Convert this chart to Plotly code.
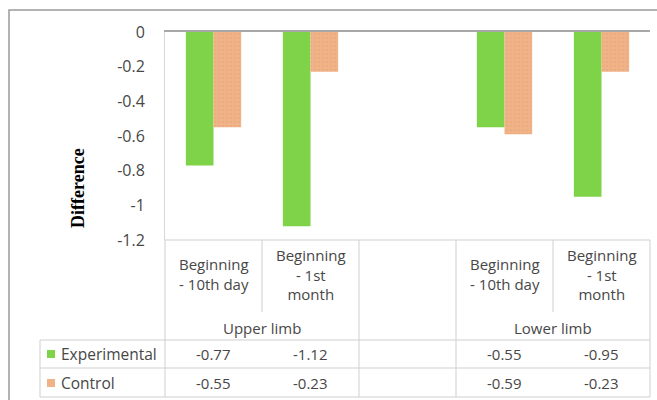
import plotly.graph_objects as go

# ---- data ----
categories = ["Beginning<br>- 10th day", "Beginning<br>- 1st<br>month", "",
              "Beginning<br>- 10th day", "Beginning<br>- 1st<br>month"]
groups = ["Upper limb", "Lower limb"]
group_centers = [0.5, 3.5]          # category-index centre of each group
series_names = ["Experimental", "Control"]
experimental = [-0.77, -1.12, None, -0.55, -0.95]
control = [-0.55, -0.23, None, -0.59, -0.23]
experimental_txt = ["-0.77", "-1.12", "", "-0.55", "-0.95"]
control_txt = ["-0.55", "-0.23", "", "-0.59", "-0.23"]
ytick_vals = [0, -0.2, -0.4, -0.6, -0.8, -1, -1.2]
ytick_text = ["0", "-0.2", "-0.4", "-0.6", "-0.8", "-1", "-1.2"]

# ---- styles ----
W, H = 657, 400
ML, MR, MT, MB = 165, 7, 32, 160
GREEN = "#7ED348"
TAN = "#F0B387"
GRID = "#cfcfcf"
TXT = "#474747"
FONT = "Open Sans"
FS = 15

x = list(range(len(categories)))
XMIN, XMAX = -0.5, len(categories) - 0.5
PW, PH = W - ML - MR, H - MT - MB


def px_x(p):  # pixel -> paper x
    return (p - ML) / PW


def px_y(p):  # pixel -> paper y
    return (H - MB - p) / PH


def cat_x(v):  # category coordinate -> paper x
    return (v - XMIN) / (XMAX - XMIN)


fig = go.Figure()
fig.add_trace(go.Bar(x=x, y=experimental, name=series_names[0],
                     marker=dict(color=GREEN, line=dict(width=0))))
fig.add_trace(go.Bar(x=x, y=control, name=series_names[1],
                     marker=dict(color=TAN, line=dict(width=0),
                                 pattern=dict(shape=".", fgcolor="#E7A679",
                                              bgcolor=TAN, size=4, solidity=0.35))))

shapes = []
ann = []

# table geometry (pixels for rows)
row_top, row_hdr, row1, row2 = 240, 340, 368, 397
left_px = 40

# horizontal lines
for yy, x0 in [(row_top, cat_x(XMIN)), (row_hdr, px_x(left_px)),
               (row1, px_x(left_px)), (row2, px_x(left_px))]:
    shapes.append(dict(type="line", xref="paper", yref="paper",
                       x0=x0, x1=cat_x(XMAX), y0=px_y(yy), y1=px_y(yy),
                       line=dict(color=GRID, width=1)))
# vertical lines
shapes.append(dict(type="line", xref="paper", yref="paper",
                   x0=px_x(left_px), x1=px_x(left_px), y0=px_y(row_hdr), y1=px_y(row2),
                   line=dict(color=GRID, width=1)))
for b in range(len(categories) + 1):
    v = XMIN + b
    partial = b in (1, 4)
    y_end = 312 if partial else row2
    shapes.append(dict(type="line", xref="paper", yref="paper",
                       x0=cat_x(v), x1=cat_x(v), y0=px_y(row_top), y1=px_y(y_end),
                       line=dict(color=GRID, width=1)))

# outer chart border
shapes.append(dict(type="rect", xref="paper", yref="paper",
                   x0=px_x(9), x1=px_x(700), y0=px_y(10), y1=px_y(440),
                   line=dict(color="#9a9a9a", width=1.5), fillcolor="rgba(0,0,0,0)"))

# category labels
for i, c in enumerate(categories):
    if c:
        ann.append(dict(x=i, xref="x", y=px_y(274), yref="paper", text=c,
                        showarrow=False, xanchor="center", yanchor="middle",
                        font=dict(family=FONT, size=FS, color=TXT)))
for g, gc in zip(groups, group_centers):
    ann.append(dict(x=gc, xref="x", y=px_y(328), yref="paper", text=g,
                    showarrow=False, xanchor="center", yanchor="middle",
                    font=dict(family=FONT, size=FS, color=TXT)))

# data rows
for rowy, name, vals, col in [(354, series_names[0], experimental_txt, GREEN),
                              (383, series_names[1], control_txt, TAN)]:
    shapes.append(dict(type="rect", xref="paper", yref="paper",
                       x0=px_x(47), x1=px_x(55), y0=px_y(rowy - 4), y1=px_y(rowy + 4),
                       line=dict(width=0), fillcolor=col))
    ann.append(dict(x=px_x(59), xref="paper", y=px_y(rowy), yref="paper", text=name,
                    showarrow=False, xanchor="left", yanchor="middle",
                    font=dict(family=FONT, size=FS + 0.5, color=TXT)))
    for i, t in enumerate(vals):
        if t:
            ann.append(dict(x=i, xref="x", y=px_y(rowy), yref="paper", text=t,
                            showarrow=False, xanchor="center", yanchor="middle",
                            font=dict(family=FONT, size=FS, color=TXT)))

# y-axis title
ann.append(dict(x=px_x(78), xref="paper", y=px_y(188), yref="paper", text="<b>Difference</b>",
                textangle=-90, showarrow=False, xanchor="center", yanchor="middle",
                font=dict(family="Liberation Serif", size=18, color="#000000")))

fig.update_layout(
    width=W, height=H,
    margin=dict(l=ML, r=MR, t=MT, b=MB, autoexpand=False),
    paper_bgcolor="white", plot_bgcolor="white",
    barmode="group", bargap=0.43, bargroupgap=0,
    showlegend=False,
    shapes=shapes, annotations=ann,
    xaxis=dict(range=[XMIN, XMAX], showticklabels=False, ticks="", showgrid=False,
               zeroline=False, showline=True, side="top", linecolor="#a8a8a8", linewidth=1.5),
    yaxis=dict(range=[-1.2, 0], tickvals=ytick_vals, ticktext=ytick_text, showgrid=False,
               zeroline=False, showline=True, linecolor="#d6d6d6", ticks="",
               ticklabelstandoff=16,
               tickfont=dict(family=FONT, size=16, color=TXT)),
)

fig.write_html("out.html")
